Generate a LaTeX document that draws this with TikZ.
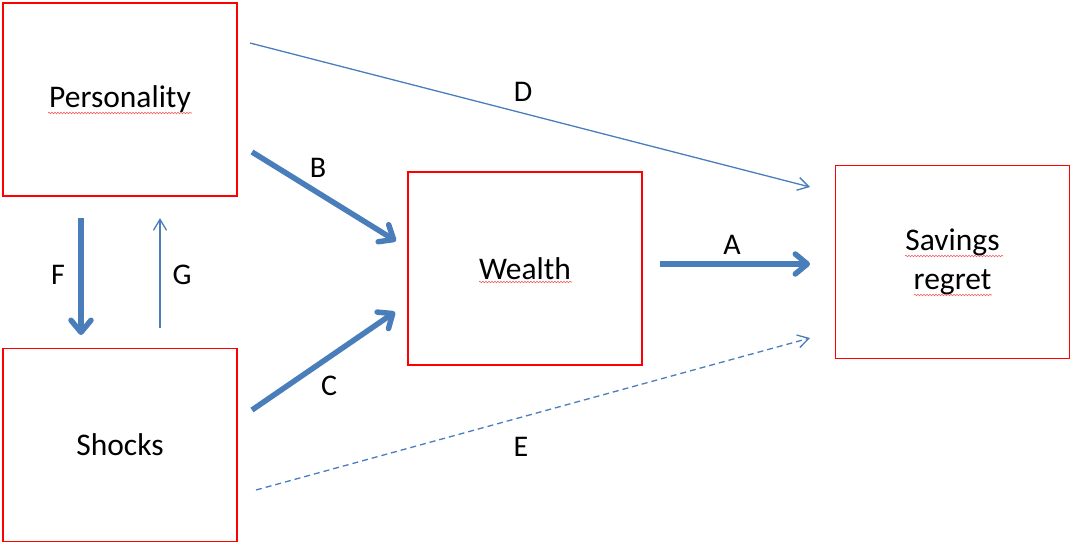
\documentclass[tikz,border=0pt]{standalone}
\usepackage{fontspec}
\setmainfont{Carlito}
\usetikzlibrary{arrows.meta,decorations.pathmorphing}
\definecolor{arrblue}{HTML}{4A7EBB}
\definecolor{boxred}{HTML}{FF0000}
\definecolor{squig}{HTML}{F06060}
\tikzset{
  box/.style={draw=boxred, line width=1.6pt, minimum width=234pt, minimum height=193pt,
    inner sep=0pt, align=center, font=\fontsize{31.5}{39}\selectfont},
  lbl/.style={inner sep=0pt, font=\fontsize{30}{36}\selectfont},
  thickarr/.style={draw=arrblue, line width=5.5pt,
    -{Straight Barb[length=12pt, width=20pt, round]}},
  thinarr/.style={draw=arrblue, line width=1.3pt,
    -{Straight Barb[length=11pt, width=13pt]}},
  spell/.style={draw=squig, line width=0.6pt, decorate,
    decoration={snake, amplitude=0.8pt, segment length=3pt}}
}
\begin{document}
\begin{tikzpicture}[x=1pt, y=-1pt]
\useasboundingbox (0,0) rectangle (1070,544);
\node[box] (pers) at (120,99.5) {Personality};
\node[box] (shock) at (120,445) {Shocks};
\node[box] (wealth) at (525,268.5) {Wealth};
\node[box] (regret) at (952.5,262) {Savings\\regret};
% arrow end points
\coordinate (d1) at (250,43);  \coordinate (d2) at (810,187);
\coordinate (b1) at (252,152); \coordinate (b2) at (396,241);
\coordinate (c1) at (252,410); \coordinate (c2) at (395,312);
\coordinate (a1) at (660,264); \coordinate (a2) at (810,264);
\coordinate (e1) at (256,490); \coordinate (e2) at (810,338);
\coordinate (f1) at (81,218);  \coordinate (f2) at (81,335);
\coordinate (g1) at (160,328); \coordinate (g2) at (160,218);
\draw[thinarr] (d1) -- (d2);
\draw[thickarr] (b1) -- (b2);
\draw[thickarr] (c1) -- (c2);
\draw[thickarr] (a1) -- (a2);
\draw[thinarr, dash pattern=on 6pt off 4pt] (e1) -- (e2);
\draw[thickarr] (f1) -- (f2);
\draw[thinarr] (g1) -- (g2);
% labels
\node[lbl] (lD) at (523,92) {D};
\node[lbl] (lB) at (318,168) {B};
\node[lbl] (lC) at (329,386) {C};
\node[lbl] (lA) at (732,245) {A};
\node[lbl] (lE) at (521,447) {E};
\node[lbl] (lF) at (58,275) {F};
\node[lbl] (lG) at (182,275) {G};
% spell-check underlines
\draw[spell] (48,113) -- (192,113);
\draw[spell] (479,282) -- (572,282);
\draw[spell] (905,256) -- (1003,256);
\draw[spell] (914,295) -- (992,295);
\end{tikzpicture}
\end{document}
